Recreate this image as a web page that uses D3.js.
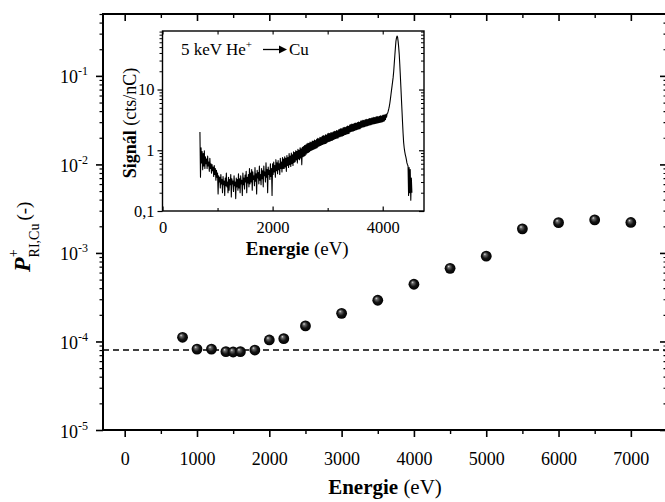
<!DOCTYPE html>
<html>
<head>
<meta charset="utf-8">
<script src="https://cdn.jsdelivr.net/npm/d3@7"></script>
<style>
  body { margin: 0; background: #fff; }
  text { font-family: "Liberation Serif", "Times New Roman", serif; fill: #000; }
</style>
</head>
<body>
<svg id="chart" width="665" height="502"></svg>
<script>
// Ionisation probability of He+ scattered from Cu, versus primary energy
const energy = [800, 1000, 1200, 1400, 1500, 1600, 1800, 2000, 2200, 2500,
                3000, 3500, 4000, 4500, 5000, 5500, 6000, 6500, 7000];
const probability = [1.115e-4, 8.2e-5, 8.2e-5, 7.67e-5, 7.6e-5, 7.67e-5, 8.0e-5, 1.04e-4, 1.076e-4, 1.5e-4,
                     2.08e-4, 2.92e-4, 4.43e-4, 6.7e-4, 9.2e-4, 1.87e-3, 2.2e-3, 2.36e-3, 2.21e-3];
const reionisationLevel = 8.0e-5;

const xTickValues = [0, 1000, 2000, 3000, 4000, 5000, 6000, 7000];
const xMinorValues = [500, 1500, 2500, 3500, 4500, 5500, 6500];
const yExponents = [-5, -4, -3, -2, -1];

// Inset: 5 keV He+ -> Cu energy spectrum (channel width 10 eV, first channel 680 eV)
const spectrumStart = 680;
const spectrumStep = 10;
const spectrumSignal = [
  2.0, 0.36, 1.1, 0.62, 0.95, 0.48, 0.88, 0.55, 0.98, 0.5, 0.78, 0.6,
  0.72, 0.5, 0.8, 0.55, 0.64, 0.45, 0.74, 0.5, 0.6, 0.42,
  0.58, 0.46, 0.53, 0.37, 0.56, 0.4, 0.5, 0.32, 0.47, 0.36,
  0.42, 0.19, 0.38, 0.3, 0.36, 0.24, 0.4, 0.28, 0.33, 0.2,
  0.37, 0.27, 0.31, 0.18, 0.35, 0.26, 0.42, 0.25, 0.3, 0.2,
  0.36, 0.22, 0.33, 0.27, 0.4, 0.17, 0.34, 0.28, 0.31, 0.21,
  0.38, 0.26, 0.3, 0.16, 0.35, 0.25, 0.33, 0.22, 0.41, 0.24,
  0.34, 0.2, 0.38, 0.28, 0.32, 0.18, 0.42, 0.27, 0.35, 0.23,
  0.39, 0.3, 0.45, 0.2, 0.36, 0.29, 0.4, 0.25, 0.5, 0.28,
  0.42, 0.3, 0.48, 0.22, 0.44, 0.33, 0.38, 0.26, 0.52, 0.31,
  0.41, 0.19, 0.47, 0.35, 0.43, 0.28, 0.55, 0.32, 0.4, 0.27,
  0.5, 0.34, 0.46, 0.25, 0.55, 0.38, 0.44, 0.3, 0.62, 0.36,
  0.48, 0.2, 0.53, 0.4, 0.47, 0.33, 0.6, 0.37, 0.5, 0.18,
  0.6, 0.4, 0.64, 0.44, 0.56, 0.36, 0.7, 0.46, 0.62, 0.41,
  0.68, 0.48, 0.6, 0.4, 0.74, 0.5, 0.64, 0.44, 0.76, 0.5,
  0.72, 0.5, 0.78, 0.53, 0.74, 0.45, 0.82, 0.56, 0.76, 0.52,
  0.88, 0.58, 0.8, 0.54, 0.9, 0.6, 0.84, 0.56, 0.94, 0.63,
  0.92, 0.65, 0.98, 0.69, 0.96, 0.62, 1.04, 0.72, 1.0, 0.7,
  1.1, 0.75, 1.06, 0.58, 1.12, 0.78, 1.15, 0.8, 1.2, 0.82,
  1.22, 0.86, 1.26, 0.9, 1.3, 0.92, 1.3, 0.95, 1.36, 0.98,
  1.34, 1.0, 1.42, 1.02, 1.4, 1.04, 1.48, 1.06, 1.44, 1.08,
  1.52, 1.1, 1.58, 1.15, 1.55, 1.18, 1.64, 1.2, 1.62, 1.22,
  1.7, 1.25, 1.75, 1.27, 1.72, 1.28, 1.8, 1.3, 1.78, 1.34,
  1.86, 1.38, 1.9, 1.4, 1.88, 1.42, 1.96, 1.45, 1.94, 1.47,
  2.0, 1.5, 2.06, 1.54, 2.04, 1.56, 2.12, 1.58, 2.1, 1.6,
  2.18, 1.65, 2.22, 1.68, 2.28, 1.7, 2.26, 1.72, 2.34, 1.76,
  2.38, 1.8, 2.36, 1.82, 2.44, 1.85, 2.5, 1.88, 2.48, 1.9,
  2.6, 2.0, 2.65, 2.04, 2.7, 2.06, 2.68, 2.08, 2.76, 2.12,
  2.8, 2.16, 2.78, 2.18, 2.86, 2.22, 2.92, 2.25, 2.9, 2.27,
  3.02, 2.36, 3.06, 2.4, 3.12, 2.42, 3.1, 2.45, 3.18, 2.5,
  3.22, 2.52, 3.2, 2.54, 3.28, 2.58, 3.34, 2.62, 3.32, 2.64,
  3.38, 2.68, 3.44, 2.72, 3.5, 2.74, 3.46, 2.77, 3.55, 2.8,
  3.6, 2.82, 3.56, 2.84, 3.64, 2.86, 3.7, 2.9, 3.66, 2.92,
  3.75, 2.98, 3.8, 3.05, 3.85, 3.2, 3.9, 3.5, 4.0, 4.1,
  4.4, 4.8, 5.3, 6.0, 7.0, 8.3, 9.8, 11.5, 13.5, 16,
  20, 27, 36, 48, 62, 71, 76, 73, 62, 50,
  38, 26, 17, 11, 7, 4.5, 2.9, 1.9, 1.35, 1.1,
  0.95, 0.85, 0.78, 0.7, 0.62, 0.58, 0.55, 0.18, 0.52, 0.2,
  0.48, 0.15, 0.35, 0.2
];
const insetXTickValues = [0, 2000, 4000];
const insetXMinorValues = [1000, 3000];
const insetYTickValues = [0.1, 1, 10];
const insetYTickLabels = ["0,1", "1", "10"];

const svg = d3.select("#chart");

// ---------- main plot ----------
const frame = { left: 103, top: 14, right: 667, bottom: 430 };
const x = d3.scaleLinear().domain([-300, 7500]).range([frame.left, frame.right]);
const y = d3.scaleLog().domain([1e-5, 0.5]).range([frame.bottom, frame.top]);

const yMajor = yExponents.map(e => Math.pow(10, e));
const yMinor = [];
yExponents.forEach(e => {
  for (let m = 2; m <= 9; m++) {
    const v = m * Math.pow(10, e);
    if (v <= 0.5) yMinor.push(v);
  }
});

function styleAxis(g, width) {
  g.select(".domain").remove();
  g.selectAll(".tick line").attr("stroke", "#000").attr("stroke-width", width);
}

// bottom axis with labels
svg.append("g")
  .attr("transform", `translate(0,${frame.bottom})`)
  .call(d3.axisBottom(x).tickValues(xTickValues).tickSize(7).tickFormat(d3.format("d")))
  .call(g => styleAxis(g, 1.6))
  .call(g => g.selectAll(".tick text")
    .attr("y", 35).attr("dy", null)
    .style("font-size", "18px"));
svg.append("g")
  .attr("transform", `translate(0,${frame.bottom})`)
  .call(d3.axisBottom(x).tickValues(xMinorValues).tickSize(4).tickFormat(""))
  .call(g => styleAxis(g, 1.4));

// top axis (ticks pointing inward)
svg.append("g")
  .attr("transform", `translate(0,${frame.top})`)
  .call(d3.axisTop(x).tickValues(xTickValues).tickSize(-7).tickFormat(""))
  .call(g => styleAxis(g, 1.6));
svg.append("g")
  .attr("transform", `translate(0,${frame.top})`)
  .call(d3.axisTop(x).tickValues(xMinorValues).tickSize(-4).tickFormat(""))
  .call(g => styleAxis(g, 1.4));

// left axis with power-of-ten labels
const leftAxis = svg.append("g")
  .attr("transform", `translate(${frame.left},0)`)
  .call(d3.axisLeft(y).tickValues(yMajor).tickSize(7).tickFormat(""))
  .call(g => styleAxis(g, 1.6));
leftAxis.selectAll(".tick").each(function (d) {
  const t = d3.select(this).append("text")
    .attr("x", -15).attr("y", 7)
    .attr("text-anchor", "end");
  t.append("tspan").style("font-size", "18px").text("10");
  t.append("tspan").style("font-size", "12px").attr("dy", -8)
    .text(String(Math.round(Math.log10(d))));
});
svg.append("g")
  .attr("transform", `translate(${frame.left},0)`)
  .call(d3.axisLeft(y).tickValues(yMinor).tickSize(3.5).tickFormat(""))
  .call(g => styleAxis(g, 1.2));

// right axis (ticks pointing inward)
svg.append("g")
  .attr("transform", `translate(${frame.right},0)`)
  .call(d3.axisRight(y).tickValues(yMajor).tickSize(-7).tickFormat(""))
  .call(g => styleAxis(g, 1.6));
svg.append("g")
  .attr("transform", `translate(${frame.right},0)`)
  .call(d3.axisRight(y).tickValues(yMinor).tickSize(-3.5).tickFormat(""))
  .call(g => styleAxis(g, 1.2));

// frame
svg.append("rect")
  .attr("x", frame.left).attr("y", frame.top)
  .attr("width", frame.right - frame.left).attr("height", frame.bottom - frame.top)
  .attr("fill", "none").attr("stroke", "#000").attr("stroke-width", 2);

// reionisation level
svg.append("line")
  .attr("x1", frame.left).attr("x2", frame.right)
  .attr("y1", y(reionisationLevel)).attr("y2", y(reionisationLevel))
  .attr("stroke", "#000").attr("stroke-width", 1.6)
  .attr("stroke-dasharray", "6,4");

// shaded sphere markers
const defs = svg.append("defs");
const grad = defs.append("radialGradient").attr("id", "sphere")
  .attr("cx", "50%").attr("cy", "50%").attr("r", "50%")
  .attr("fx", "35%").attr("fy", "30%");
grad.append("stop").attr("offset", "0%").attr("stop-color", "#e8e8e8");
grad.append("stop").attr("offset", "22%").attr("stop-color", "#6a6a6a");
grad.append("stop").attr("offset", "60%").attr("stop-color", "#141414");
grad.append("stop").attr("offset", "100%").attr("stop-color", "#000");

svg.append("g").selectAll("circle")
  .data(energy.map((e, i) => [e, probability[i]]))
  .join("circle")
  .attr("cx", d => x(d[0]))
  .attr("cy", d => y(d[1]))
  .attr("r", 5.4)
  .attr("fill", "url(#sphere)");

// axis titles
svg.append("text")
  .attr("x", (frame.left + frame.right) / 2).attr("y", 494)
  .attr("text-anchor", "middle")
  .style("font-size", "21px")
  .call(t => {
    t.append("tspan").style("font-weight", "bold").text("Energie");
    t.append("tspan").text(" (eV)");
  });

const yTitle = svg.append("text")
  .attr("transform", "translate(30,272) rotate(-90)")
  .attr("text-anchor", "start");
yTitle.append("tspan").style("font-size", "24px").style("font-weight", "bold")
  .style("font-style", "italic").text("P");
yTitle.append("tspan").style("font-size", "14px").attr("dy", -12).text("+");
yTitle.append("tspan").style("font-size", "14px").attr("dy", 21).attr("dx", -8).text("RI,Cu");
yTitle.append("tspan").style("font-size", "19px").attr("dy", -9).attr("dx", 3).text("(-)");

// ---------- inset ----------
const inset = { left: 162.5, top: 31, right: 424, bottom: 211 };
const xi = d3.scaleLinear().domain([0, 4750]).range([inset.left, inset.right]);
const yi = d3.scaleLog().domain([0.1, 92]).range([inset.bottom, inset.top]);

svg.append("rect")
  .attr("x", inset.left).attr("y", inset.top)
  .attr("width", inset.right - inset.left).attr("height", inset.bottom - inset.top)
  .attr("fill", "#fff");

const yiMinor = [];
[0.1, 1, 10].forEach(p => {
  for (let m = 2; m <= 9; m++) {
    const v = m * p;
    if (v <= 92) yiMinor.push(v);
  }
});

svg.append("path")
  .datum(spectrumSignal.map((s, i) => [spectrumStart + i * spectrumStep, s]))
  .attr("fill", "none").attr("stroke", "#000").attr("stroke-width", 1.1)
  .attr("stroke-linejoin", "round")
  .attr("d", d3.line().x(d => xi(d[0])).y(d => yi(d[1])));

// inset bottom axis: ticks inward, labels below
svg.append("g")
  .attr("transform", `translate(0,${inset.bottom})`)
  .call(d3.axisBottom(xi).tickValues(insetXTickValues).tickSize(-4.5).tickPadding(10)
    .tickFormat(d3.format("d")))
  .call(g => styleAxis(g, 1.2))
  .call(g => g.selectAll(".tick text").attr("dy", "0.71em").style("font-size", "16.5px"));
svg.append("g")
  .attr("transform", `translate(0,${inset.bottom})`)
  .call(d3.axisBottom(xi).tickValues(insetXMinorValues).tickSize(-3).tickFormat(""))
  .call(g => styleAxis(g, 1.1));
svg.append("g")
  .attr("transform", `translate(0,${inset.top})`)
  .call(d3.axisTop(xi).tickValues(insetXTickValues.concat(insetXMinorValues)).tickSize(-3.5).tickFormat(""))
  .call(g => styleAxis(g, 1.1));

// inset left axis: ticks outward, labels with decimal comma
svg.append("g")
  .attr("transform", `translate(${inset.left},0)`)
  .call(d3.axisLeft(yi).tickValues(insetYTickValues).tickSize(5).tickPadding(3)
    .tickFormat((d, i) => insetYTickLabels[i]))
  .call(g => styleAxis(g, 1.2))
  .call(g => g.selectAll(".tick text").attr("dy", "0.33em").style("font-size", "16.5px"));
svg.append("g")
  .attr("transform", `translate(${inset.left},0)`)
  .call(d3.axisLeft(yi).tickValues(yiMinor).tickSize(3).tickFormat(""))
  .call(g => styleAxis(g, 1));
svg.append("g")
  .attr("transform", `translate(${inset.right},0)`)
  .call(d3.axisRight(yi).tickValues(insetYTickValues).tickSize(-5).tickFormat(""))
  .call(g => styleAxis(g, 1.2));
svg.append("g")
  .attr("transform", `translate(${inset.right},0)`)
  .call(d3.axisRight(yi).tickValues(yiMinor).tickSize(-3).tickFormat(""))
  .call(g => styleAxis(g, 1));

svg.append("rect")
  .attr("x", inset.left).attr("y", inset.top)
  .attr("width", inset.right - inset.left).attr("height", inset.bottom - inset.top)
  .attr("fill", "none").attr("stroke", "#000").attr("stroke-width", 1.4);

// inset titles
svg.append("text")
  .attr("x", (inset.left + inset.right) / 2 + 4).attr("y", 255)
  .attr("text-anchor", "middle")
  .style("font-size", "19px")
  .call(t => {
    t.append("tspan").style("font-weight", "bold").text("Energie");
    t.append("tspan").text(" (eV)");
  });
svg.append("text")
  .attr("transform", `translate(136,${(inset.top + inset.bottom) / 2 + 2}) rotate(-90)`)
  .attr("text-anchor", "middle")
  .style("font-size", "18px")
  .call(t => {
    t.append("tspan").style("font-weight", "bold").text("Signál");
    t.append("tspan").text(" (cts/nC)");
  });

// reaction annotation
const note = svg.append("text").attr("x", 181).attr("y", 55).style("font-size", "17px");
note.append("tspan").text("5 keV He");
note.append("tspan").style("font-size", "11px").attr("dy", -7).text("+");
svg.append("line")
  .attr("x1", 263).attr("x2", 280).attr("y1", 49.5).attr("y2", 49.5)
  .attr("stroke", "#000").attr("stroke-width", 1.3);
svg.append("path")
  .attr("d", "M279,45.5 L287,49.5 L279,53.5 Z")
  .attr("fill", "#000");
svg.append("text").attr("x", 289).attr("y", 55).style("font-size", "17px").text("Cu");
</script>
</body>
</html>
